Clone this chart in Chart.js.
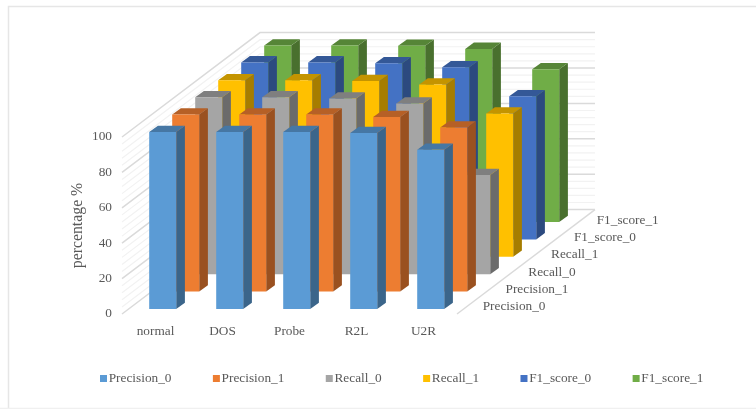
<!DOCTYPE html>
<html>
<head>
<meta charset="utf-8">
<title>Detection metrics by traffic class</title>
<script src="https://cdn.jsdelivr.net/npm/chart.js@4"></script>
<style>
  html, body { margin: 0; padding: 0; background: #fff; }
  canvas { display: block; }
</style>
</head>
<body>
<canvas id="metrics-chart" width="756" height="409"></canvas>
<script>
const categories = ['normal', 'DOS', 'Probe', 'R2L', 'U2R'];
const seriesNames = ['Precision_0', 'Precision_1', 'Recall_0', 'Recall_1', 'F1_score_0', 'F1_score_1'];
const precision0 = [100, 100, 100, 99.4, 90];
const precision1 = [100, 100, 100, 98.6, 92.7];
const recall0 = [100, 100, 99.2, 96.4, 56];
const recall1 = [99.7, 99.7, 99.3, 97.3, 81];
const f1Score0 = [100, 100, 99.5, 97.2, 80.9];
const f1Score1 = [99.7, 99.7, 99.6, 97.8, 86.3];
const seriesValues = [precision0, precision1, recall0, recall1, f1Score0, f1Score1];
const seriesColors = ['#5B9BD5', '#ED7D31', '#A5A5A5', '#FFC000', '#4472C4', '#70AD47'];

const FONT = '"Liberation Serif", "Times New Roman", serif';
const TEXT_COLOR = '#595959';
const TEXT_SIZE = 13.3;

// oblique projection: one row of bars moves this far right and up
const ROW_DX = 23;
const ROW_DY = 17.4;
const BAR_DX = 8.7;
const BAR_DY = 6.3;
const ROW_INSET_X = 7.2;
const ROW_INSET_Y = 5;

function shade(hex, factor) {
    const n = parseInt(hex.slice(1), 16);
    const r = Math.round((n >> 16 & 255) * factor);
    const g = Math.round((n >> 8 & 255) * factor);
    const b = Math.round((n & 255) * factor);
    return `rgb(${r},${g},${b})`;
}

function quad(ctx, pts, color) {
    ctx.fillStyle = color;
    ctx.beginPath();
    ctx.moveTo(pts[0][0], pts[0][1]);
    for (let i = 1; i < pts.length; i++) ctx.lineTo(pts[i][0], pts[i][1]);
    ctx.closePath();
    ctx.fill();
}

// walls, depth labels, frame and legend
const scenePlugin = {
    id: 'scene',
    beforeDatasetsDraw(chart) {
        const { ctx, scales } = chart;
        const left = scales.x.left;
        const right = scales.x.right;
        const backX = ROW_DX * seriesNames.length;
        const backY = ROW_DY * seriesNames.length;

        ctx.save();

        // chart frame
        ctx.strokeStyle = '#E6E6E6';
        ctx.lineWidth = 1.5;
        ctx.beginPath();
        ctx.moveTo(8.5, 409);
        ctx.lineTo(8.5, 6.5);
        ctx.lineTo(756, 6.5);
        ctx.stroke();
        ctx.strokeStyle = '#F0F0F0';
        ctx.beginPath();
        ctx.moveTo(0, 408.5);
        ctx.lineTo(756, 408.5);
        ctx.stroke();

        // minor lines every 4, major every 20
        for (let v = 0; v <= 100; v += 4) {
            const major = v % 20 === 0;
            const y = scales.y.getPixelForValue(v);
            ctx.strokeStyle = major ? '#DADADA' : '#F2F2F2';
            ctx.lineWidth = major ? 1.5 : 1.2;
            ctx.beginPath();
            ctx.moveTo(left, y);
            ctx.lineTo(left + backX, y - backY);
            ctx.lineTo(right + backX, y - backY);
            ctx.stroke();
        }

        // right edge of the floor
        const floorY = scales.y.getPixelForValue(0);
        ctx.strokeStyle = '#DADADA';
        ctx.lineWidth = 1.5;
        ctx.beginPath();
        ctx.moveTo(right, floorY);
        ctx.lineTo(right + backX, floorY - backY);
        ctx.stroke();

        // depth axis labels
        ctx.font = TEXT_SIZE + 'px ' + FONT;
        ctx.fillStyle = TEXT_COLOR;
        ctx.textAlign = 'left';
        ctx.textBaseline = 'middle';
        seriesNames.forEach((name, i) => {
            ctx.fillText(name, right + 25.7 + i * 22.8, floorY - 7.3 - i * 17.3);
        });

        // legend
        let x = 100;
        seriesNames.forEach((name, i) => {
            ctx.fillStyle = seriesColors[i];
            ctx.fillRect(x, 375, 7, 7);
            ctx.fillStyle = TEXT_COLOR;
            ctx.fillText(name, x + 8.7, 379);
            x += 8.7 + ctx.measureText(name).width + 41.4;
        });

        ctx.restore();
    },
    // shift each row back and add its top and side faces
    beforeDatasetDraw(chart, args) {
        const { ctx } = chart;
        const i = args.index;
        const color = seriesColors[i];
        ctx.save();
        ctx.translate(ROW_INSET_X + i * ROW_DX, -ROW_INSET_Y - i * ROW_DY);
        args.meta.data.forEach(bar => {
            const { x, y, base, width } = bar.getProps(['x', 'y', 'base', 'width'], true);
            const l = x - width / 2;
            const r = x + width / 2;
            quad(ctx, [[r, y], [r + BAR_DX, y - BAR_DY], [r + BAR_DX, base - BAR_DY], [r, base]], shade(color, 0.65));
            quad(ctx, [[l, y], [l + BAR_DX, y - BAR_DY], [r + BAR_DX, y - BAR_DY], [r, y]], shade(color, 0.77));
        });
    },
    afterDatasetDraw(chart) {
        chart.ctx.restore();
    }
};

new Chart(document.getElementById('metrics-chart'), {
    type: 'bar',
    plugins: [scenePlugin],
    data: {
        labels: categories,
        datasets: seriesNames.map((name, i) => ({
            label: name,
            data: seriesValues[i],
            backgroundColor: seriesColors[i],
            borderWidth: 0,
            clip: false,
            grouped: false,
            categoryPercentage: 1,
            barPercentage: 27 / 67
        }))
    },
    options: {
        responsive: false,
        animation: false,
        layout: { padding: { left: 68, top: 137, right: 299, bottom: 55 } },
        plugins: {
            legend: { display: false },
            tooltip: { enabled: false }
        },
        scales: {
            x: {
                grid: { display: false },
                border: { display: false },
                afterFit: scale => { scale.height = 40; },
                ticks: {
                    color: TEXT_COLOR,
                    padding: 2,
                    maxRotation: 0,
                    font: { family: FONT, size: TEXT_SIZE }
                }
            },
            y: {
                min: 0,
                max: 100,
                grid: { display: false },
                border: { display: false },
                afterFit: scale => { scale.width = 54; },
                title: {
                    display: true,
                    text: 'percentage %',
                    color: TEXT_COLOR,
                    padding: { top: 0, bottom: 0 },
                    font: { family: FONT, size: 15.8 }
                },
                ticks: {
                    stepSize: 20,
                    color: TEXT_COLOR,
                    padding: 2,
                    font: { family: FONT, size: TEXT_SIZE }
                }
            }
        }
    }
});
</script>
</body>
</html>
